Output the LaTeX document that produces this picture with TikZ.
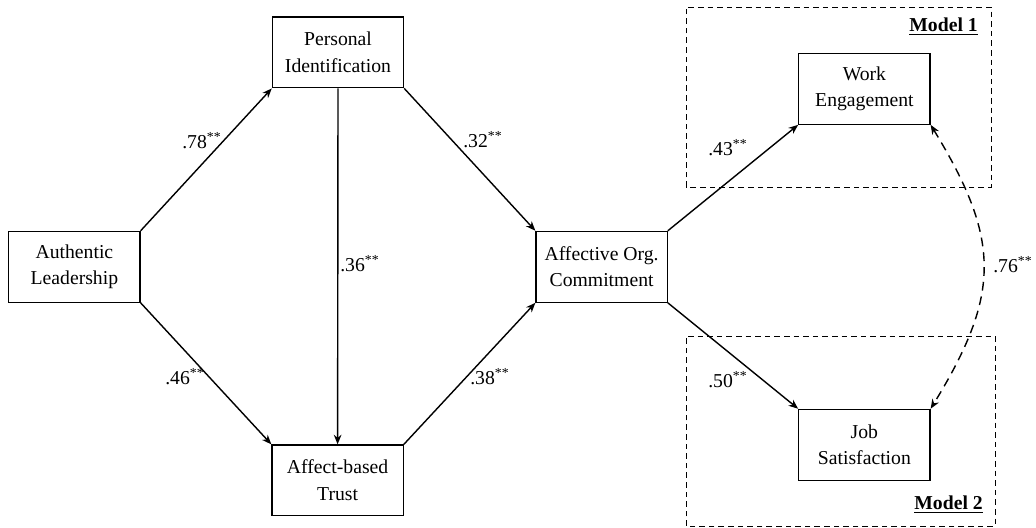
\documentclass[tikz,border=0pt]{standalone}
\usepackage{fontspec}
\setmainfont{Liberation Serif}
\usetikzlibrary{arrows.meta}

\tikzset{
  varbox/.style={draw, line width=0.9pt, minimum width=3.28cm, minimum height=1.77cm,
    inner sep=0pt, align=center, font=\fontsize{14}{19}\selectfont},
  path/.style={line width=1pt, -{Stealth[length=2.4mm,width=1.9mm]}},
  coef/.style={anchor=base west, inner sep=0pt, font=\fontsize{14}{16}\selectfont},
  modelframe/.style={draw, line width=0.65pt, dash pattern=on 1.4mm off 1mm},
  modellabel/.style={anchor=base east, inner sep=0pt, font=\fontsize{14}{16}\selectfont\bfseries}
}

\begin{document}
\begin{tikzpicture}

% Keep the page the size of the original figure
\useasboundingbox (0,0) rectangle (25.9,13.2);

% Model frames
\draw[modelframe] (17.15,8.525) rectangle (24.775,13.025);   % Model 1
\draw[modelframe] (17.15,0.05) rectangle (24.875,4.8);       % Model 2
\node[modellabel] (m1) at (24.45,12.4) {\underline{Model 1}};
\node[modellabel] (m2) at (24.575,0.45) {\underline{Model 2}};

% Variables
\node[varbox] (AL) at (1.86,6.53) {Authentic\\Leadership};
\node[varbox] (PI) at (8.45,11.89) {Personal\\Identification};
\node[varbox] (AT) at (8.44,1.19) {Affect-based\\Trust};
\node[varbox] (AOC) at (15.04,6.53) {Affective Org.\\Commitment};
\node[varbox] (WE) at (21.61,10.98) {Work\\Engagement};
\node[varbox] (JS) at (21.61,2.08) {Job\\Satisfaction};

% Paths
\draw[path] (AL.north east) -- (PI.south west);
\draw[path] (AL.south east) -- (AT.north west);
\draw[path] (PI.south) -- (AT.north);
\draw[path] (PI.south east) -- (AOC.north west);
\draw[path] (AT.north east) -- (AOC.south west);
\draw[path] (AOC.north east) -- (WE.south west);
\draw[path] (AOC.south east) -- (JS.north west);

% Correlation between outcomes
\draw[line width=1pt, dash pattern=on 2.2mm off 1.5mm,
  {Stealth[length=2.4mm,width=1.9mm]}-{Stealth[length=2.4mm,width=1.9mm]}]
  (WE.south east) .. controls (25.025,7.2) and (25.025,5.85) .. (JS.north east);

% Coefficients
\node[coef] (c1) at (4.55,9.475) {.78\textsuperscript{**}};
\node[coef] (c2) at (4.125,3.575) {.46\textsuperscript{**}};
\node[coef] (c3) at (8.5,6.4) {.36\textsuperscript{**}};
\node[coef] (c4) at (11.575,9.5) {.32\textsuperscript{**}};
\node[coef] (c5) at (11.75,3.575) {.38\textsuperscript{**}};
\node[coef] (c6) at (17.7,9.3) {.43\textsuperscript{**}};
\node[coef] (c7) at (17.7,3.5) {.50\textsuperscript{**}};
\node[coef] (c8) at (24.825,6.375) {.76\textsuperscript{**}};

\end{tikzpicture}
\end{document}
